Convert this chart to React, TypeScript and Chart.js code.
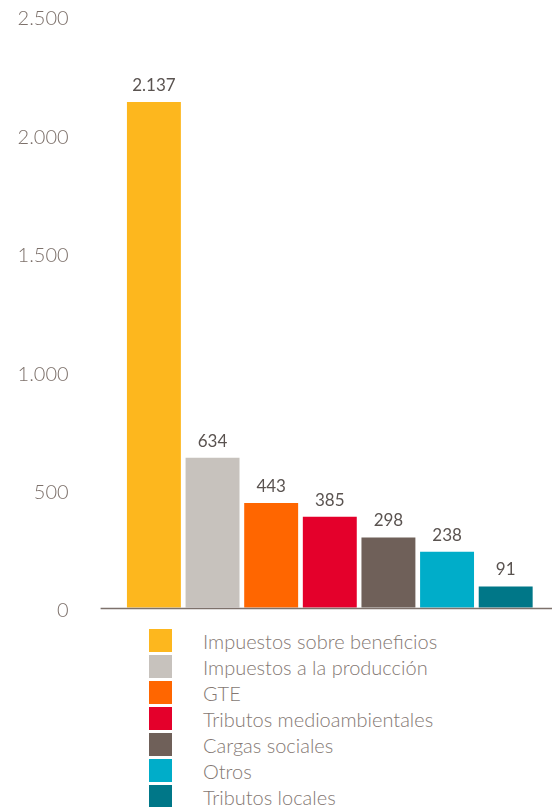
import React, { useEffect, useRef } from 'react';
import { Chart, registerables } from 'chart.js';

Chart.register(...registerables);

const categories = [
  'Impuestos sobre beneficios',
  'Impuestos a la producción',
  'GTE',
  'Tributos medioambientales',
  'Cargas sociales',
  'Otros',
  'Tributos locales',
];
const values = [2137, 634, 443, 385, 298, 238, 91];
const barColors = ['#FDB71E', '#C7C2BD', '#FF6600', '#E4002B', '#6F6059', '#00ADC9', '#007788'];
const yTickValues = [0, 500, 1000, 1500, 2000, 2500];
const yTickLabels = ['0', '500', '1.000', '1.500', '2.000', '2.500'];

const FONT = 'Lato, "Open Sans", "DejaVu Sans", sans-serif';
const AXIS_COLOR = '#7d716b';
const LABEL_COLOR = '#5a5350';
const LEGEND_COLOR = '#847873';

const fmt = (v: number) => String(v).replace(/\B(?=(\d{3})+(?!\d))/g, '.');

const overlayPlugin = {
  id: 'overlay',
  afterDatasetsDraw(chart: any) {
    const { ctx, chartArea } = chart;
    const yScale = chart.scales.y;
    const y0 = yScale.getPixelForValue(0);
    ctx.save();
    ctx.strokeStyle = AXIS_COLOR;
    ctx.lineWidth = 1.6;
    ctx.beginPath();
    ctx.moveTo(chartArea.left - 24, y0 + 0.5);
    ctx.lineTo(chart.width, y0 + 0.5);
    ctx.stroke();

    const meta = chart.getDatasetMeta(0);
    ctx.font = `17px ${FONT}`;
    ctx.fillStyle = LABEL_COLOR;
    ctx.textAlign = 'center';
    ctx.textBaseline = 'alphabetic';
    meta.data.forEach((bar: any, i: number) => {
      ctx.fillText(fmt(values[i]), bar.x, bar.y - 11);
    });
    ctx.restore();
  },
};

export default function App() {
  const canvasRef = useRef<HTMLCanvasElement | null>(null);

  useEffect(() => {
    if (!canvasRef.current) return;
    const chart = new Chart(canvasRef.current, {
      type: 'bar',
      data: {
        labels: categories,
        datasets: [
          {
            data: values,
            backgroundColor: barColors,
            borderWidth: 0,
            barPercentage: 0.92,
            categoryPercentage: 1,
          },
        ],
      },
      options: {
        responsive: false,
        animation: false,
        layout: { padding: { top: 16, bottom: 17, left: 0, right: 17 } },
        plugins: {
          legend: { display: false },
          tooltip: { enabled: false },
        },
        scales: {
          x: { display: false },
          y: {
            min: 0,
            max: 2500,
            grid: {
              display: true,
              drawOnChartArea: false,
              drawTicks: true,
              tickLength: 56,
              color: 'rgba(0,0,0,0)',
            },
            border: { display: false },
            afterBuildTicks: (scale: any) => {
              scale.ticks = yTickValues.map((v) => ({ value: v }));
            },
            afterFit: (scale: any) => {
              scale.width = 124.6;
            },
            ticks: {
              padding: 0,
              labelOffset: 3,
              color: AXIS_COLOR,
              font: { family: FONT, size: 20, weight: '300' },
              callback: (v: any) => {
                const i = yTickValues.indexOf(Number(v));
                return i >= 0 ? yTickLabels[i] : '';
              },
            },
          },
        },
      },
      plugins: [overlayPlugin],
    });
    return () => chart.destroy();
  }, []);

  return (
    <div style={{ position: 'absolute', left: 0, top: 0, width: 552, height: 807, background: '#fff' }}>
      <canvas ref={canvasRef} width={552} height={625} style={{ display: 'block', width: 552, height: 625 }} />
      {categories.map((c, i) => (
        <div
          key={c}
          style={{
            position: 'absolute',
            left: 149,
            top: 629 + i * 26,
            height: 23,
            display: 'flex',
            alignItems: 'center',
            fontFamily: FONT,
            fontSize: 20,
            fontWeight: 300,
            color: LEGEND_COLOR,
            whiteSpace: 'nowrap',
          }}
        >
          <span style={{ display: 'inline-block', width: 23, height: 23, background: barColors[i], marginRight: 31 }} />
          <span>{c}</span>
        </div>
      ))}
    </div>
  );
}
